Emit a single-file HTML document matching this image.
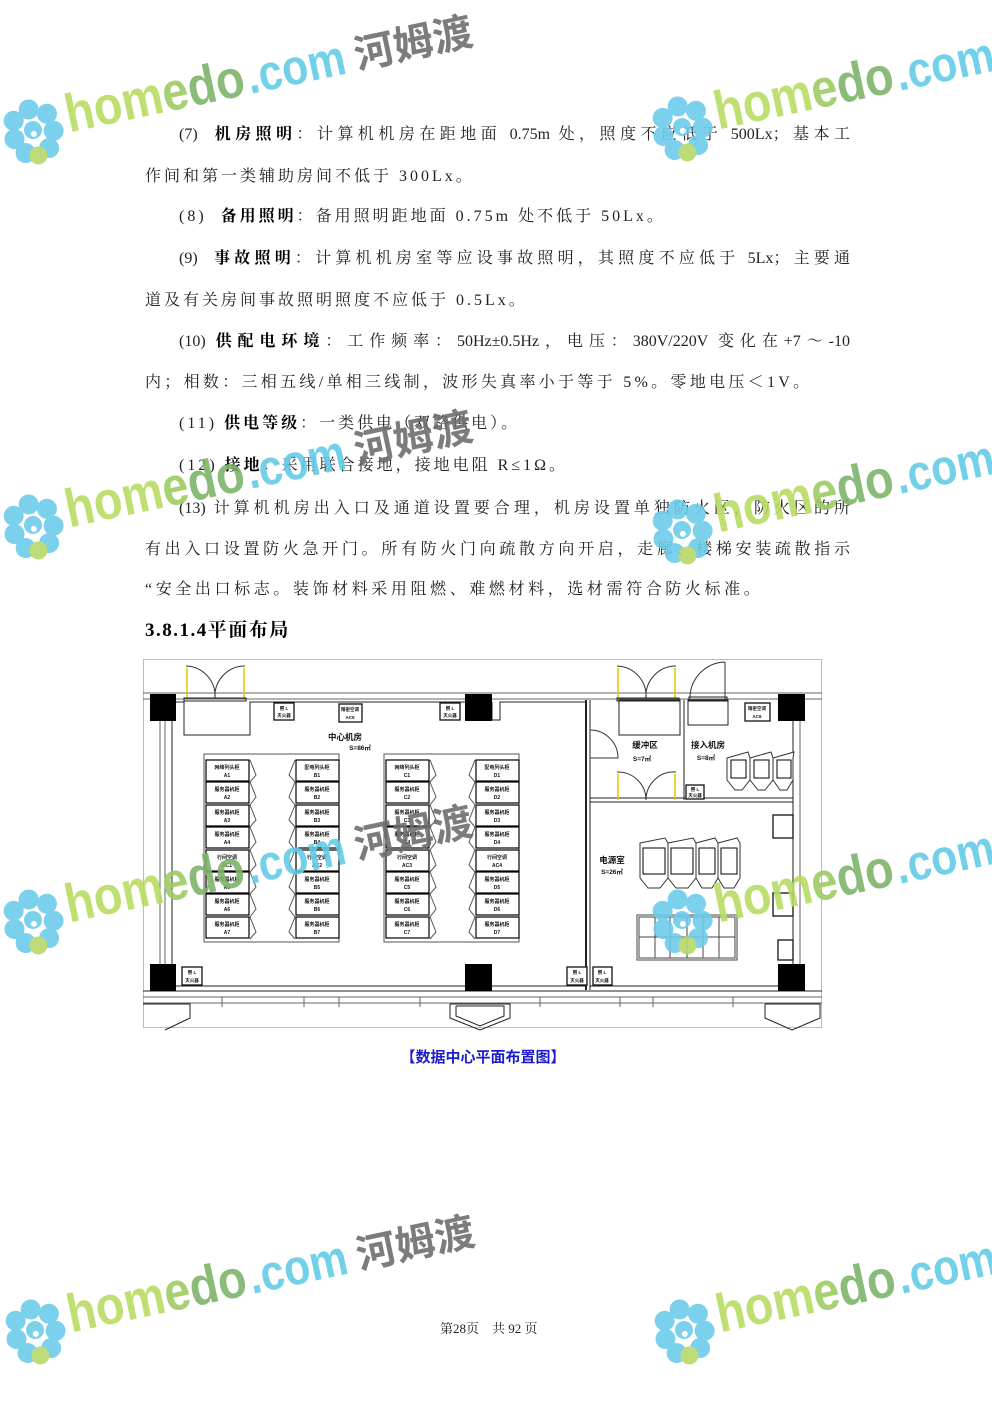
<!DOCTYPE html>
<html><head><meta charset="utf-8">
<style>
html,body{margin:0;padding:0;background:#fff}
body{width:992px;height:1403px;position:relative;overflow:hidden;font-family:"Liberation Serif","Noto Serif CJK SC",serif;color:#222}
.l{position:absolute;left:145px;height:22px;line-height:22px;font-size:16px;letter-spacing:2.4px;white-space:nowrap}
.j{width:705px;text-align:justify;text-align-last:justify;letter-spacing:0;white-space:normal}
.i{left:179px}
.i.j{width:671px}
b{font-weight:bold;color:#000}
svg{position:absolute;left:0;top:0}
.t{font-family:"Liberation Sans","Noto Sans CJK SC",sans-serif;font-weight:bold;fill:#111}
</style></head><body>
<div class="l i j" style="top:124px">(7)&nbsp; <b>机房照明</b>：计算机机房在距地面 0.75m 处，照度不应低于 500Lx；基本工</div>
<div class="l" style="top:166px;letter-spacing:3px">作间和第一类辅助房间不低于 300Lx。</div>
<div class="l i" style="top:206px;letter-spacing:3px">(8)&nbsp; <b>备用照明</b>：备用照明距地面 0.75m 处不低于 50Lx。</div>
<div class="l i j" style="top:248px">(9)&nbsp; <b>事故照明</b>：计算机机房室等应设事故照明，其照度不应低于 5Lx；主要通</div>
<div class="l" style="top:290px;letter-spacing:3px">道及有关房间事故照明照度不应低于 0.5Lx。</div>
<div class="l i j" style="top:331px">(10) <b>供配电环境</b>：工作频率：50Hz±0.5Hz，电压：380V/220V 变化在+7～-10</div>
<div class="l" style="top:372px;letter-spacing:3.3px">内；相数：三相五线/单相三线制，波形失真率小于等于 5%。零地电压＜1V。</div>
<div class="l i" style="top:413px;letter-spacing:3px">(11) <b>供电等级</b>：一类供电（双路供电）。</div>
<div class="l i" style="top:455px;letter-spacing:3px">(12) <b>接地</b>：采用联合接地，接地电阻 R≤1Ω。</div>
<div class="l i j" style="top:498px">(13) 计算机机房出入口及通道设置要合理，机房设置单独防火区，防火区的所</div>
<div class="l j" style="top:539px">有出入口设置防火急开门。所有防火门向疏散方向开启，走廊、楼梯安装疏散指示</div>
<div class="l" style="top:579px;letter-spacing:3.6px">“安全出口标志。装饰材料采用阻燃、难燃材料，选材需符合防火标准。</div>
<div class="l" style="top:620px;font-size:19px;font-weight:bold;letter-spacing:1.5px;color:#000">3.8.1.4平面布局</div>
<div style="position:absolute;left:380px;width:206px;top:1046px;text-align:center;font-size:15px;font-weight:bold;color:#1c1ccc;font-family:'Liberation Sans','Noto Sans CJK SC',sans-serif">【数据中心平面布置图】</div>
<div style="position:absolute;left:440px;top:1318px;font-size:13px;color:#222">第28页&nbsp;&nbsp;&nbsp; 共 92 页</div>

<svg width="992" height="1403" viewBox="0 0 992 1403">
<defs>
<g id="logo"><g fill="#6ccbea"><circle cx="0" cy="-21" r="10"/><circle cx="17" cy="-13" r="10"/><circle cx="20" cy="5" r="10"/><circle cx="-17" cy="-13" r="10"/><circle cx="-20" cy="5" r="10"/><circle cx="-12" cy="21" r="10"/><circle cx="12" cy="21" r="10"/><circle cx="0" cy="0" r="9"/></g><circle cx="0" cy="26" r="9" fill="#b6d868"/><circle cx="0" cy="4" r="3" fill="#fff"/></g>
</defs>
<g fill="none" stroke="#222" stroke-width="1">
<rect x="143.5" y="659.5" width="678" height="368" stroke="#bbb"/>
<line x1="143" y1="693" x2="822" y2="693" stroke="#666"/><line x1="143" y1="699" x2="822" y2="699" stroke="#666"/>
<line x1="143" y1="991" x2="822" y2="991"/><line x1="143" y1="997" x2="822" y2="997" stroke="#666"/><line x1="143" y1="1003" x2="822" y2="1003" stroke="#666"/>
<line x1="160" y1="721" x2="160" y2="964" stroke="#666"/><line x1="165" y1="721" x2="165" y2="964" stroke="#666"/><line x1="172" y1="721" x2="172" y2="964"/>
<polyline points="176,702 184,702 184,735 250,735 250,702 465,702"/>
<polyline points="492,702 492,720 500,720 500,702 586,702"/>
<line x1="586" y1="700" x2="586" y2="990" stroke-width="2"/><line x1="590" y1="700" x2="590" y2="990"/>
<polyline points="176,986 465,986"/><polyline points="492,986 586,986"/>
<rect x="619" y="700" width="61" height="35"/>
<line x1="684" y1="700" x2="684" y2="800"/>
<rect x="688" y="700" width="40" height="25"/>
<line x1="590" y1="798" x2="793" y2="798"/><line x1="590" y1="802" x2="793" y2="802"/>
<line x1="793" y1="721" x2="793" y2="964"/><line x1="800" y1="721" x2="800" y2="964" stroke="#666"/>
<line x1="590" y1="986" x2="778" y2="986"/>
<g stroke="#333">
<path d="M186,666 A30,30 0 0 1 215,698 M245,666 A30,30 0 0 0 215,698"/>
<path d="M617,666 A30,30 0 0 1 646,698 M676,666 A30,30 0 0 0 646,698"/>
<path d="M725,662 A36,36 0 0 0 690,698"/><line x1="725" y1="662" x2="725" y2="700"/>
<path d="M617,772 A28,28 0 0 1 646,800 M676,772 A28,28 0 0 0 646,800"/>
<path d="M590,730 A28,28 0 0 1 618,758"/><line x1="590" y1="758" x2="618" y2="758"/>
</g>
<g stroke="#e2c400" stroke-width="1.5"><line x1="187" y1="668" x2="187" y2="698"/><line x1="244" y1="668" x2="244" y2="698"/><line x1="618" y1="668" x2="618" y2="698"/><line x1="675" y1="668" x2="675" y2="698"/><line x1="618" y1="774" x2="618" y2="800"/><line x1="675" y1="774" x2="675" y2="800"/></g>
<rect x="184" y="698" width="62" height="3"/><rect x="617" y="698" width="62" height="3"/><rect x="689" y="697" width="38" height="4"/>
<polyline points="143,1004 190,1004 190,1018 165,1030"/>
<polyline points="450,1004 510,1004 510,1018 480,1030 450,1018 450,1004"/>
<polyline points="456,1006 504,1006 504,1016 480,1026 456,1016 456,1006"/>
<polyline points="765,1004 820,1004 820,1018 792,1030 765,1018 765,1004"/>
<g stroke="#666"><line x1="222" y1="997" x2="222" y2="1007"/><line x1="304" y1="997" x2="304" y2="1007"/><line x1="339" y1="997" x2="339" y2="1007"/><line x1="420" y1="997" x2="420" y2="1007"/><line x1="540" y1="997" x2="540" y2="1007"/><line x1="620" y1="997" x2="620" y2="1007"/><line x1="653" y1="997" x2="653" y2="1007"/><line x1="733" y1="997" x2="733" y2="1007"/></g>
<rect x="204" y="754" width="135" height="188" stroke="#555"/>
<rect x="384" y="754" width="135" height="188" stroke="#555"/>
</g>
<g fill="#000"><rect x="150" y="694" width="26" height="27"/><rect x="465" y="694" width="27" height="27"/><rect x="778" y="694" width="27" height="27"/><rect x="150" y="964" width="26" height="27"/><rect x="465" y="964" width="27" height="27"/><rect x="778" y="964" width="27" height="27"/></g>
<g fill="#fff" stroke="#111" stroke-width="1.3">
<rect x="274" y="703" width="20" height="17"/><rect x="440" y="703" width="20" height="17"/><rect x="339" y="704" width="23" height="18"/>
<rect x="182" y="967" width="20" height="18"/><rect x="567" y="967" width="20" height="18"/><rect x="593" y="967" width="19" height="18"/>
<rect x="745" y="703" width="25" height="18"/><rect x="686" y="785" width="18" height="14"/>
<rect x="773" y="815" width="20" height="23"/><rect x="773" y="893" width="20" height="23"/><rect x="778" y="940" width="15" height="20"/>
</g>
<g class="t" font-size="4.5" text-anchor="middle">
<text x="284" y="710">照 L</text><text x="284" y="717">灭火器</text>
<text x="450" y="710">照 L</text><text x="450" y="717">灭火器</text>
<text x="350" y="711">精密空调</text><text x="350" y="719">AC5</text>
<text x="192" y="974">照 L</text><text x="192" y="982">灭火器</text>
<text x="577" y="974">照 L</text><text x="577" y="982">灭火器</text>
<text x="602" y="974">照 L</text><text x="602" y="982">灭火器</text>
<text x="757" y="710">精密空调</text><text x="757" y="718">AC6</text>
<text x="695" y="791">照 L</text><text x="695" y="797">灭火器</text>
</g>
<g class="t" text-anchor="middle">
<text x="345" y="740" font-size="8.5">中心机房</text><text x="360" y="750" font-size="6.5">S=86㎡</text>
<text x="645" y="748" font-size="8.5">缓冲区</text><text x="642" y="761" font-size="6.5">S=7㎡</text>
<text x="708" y="748" font-size="8.5">接入机房</text><text x="706" y="760" font-size="6.5">S=8㎡</text>
<text x="612" y="863" font-size="8.5">电源室</text><text x="612" y="874" font-size="6.5">S=26㎡</text>
</g>
<g fill="#fff" stroke="#333"><path d="M727,758 L748,752 L750,758 L750,780 L742,790 L735,790 L727,780 Z"/><path d="M750,758 L771,752 L773,758 L773,780 L765,790 L758,790 L750,780 Z"/><path d="M773,758 L794,752 L793,758 L793,780 L787,790 L780,790 L773,780 Z"/>
<rect x="731" y="760" width="15" height="18" stroke="#000"/><rect x="754" y="760" width="15" height="18" stroke="#000"/><rect x="777" y="760" width="14" height="18" stroke="#000"/></g>
<g fill="#fff" stroke="#333"><path d="M640,843 L665,838 L668,843 L668,878 L660,888 L648,888 L640,878 Z"/><path d="M668,843 L693,838 L696,843 L696,878 L688,888 L676,888 L668,878 Z"/><path d="M696,843 L715,838 L718,843 L718,878 L712,888 L702,888 L696,878 Z"/><path d="M718,843 L737,838 L740,843 L740,878 L734,888 L724,888 L718,878 Z"/>
<rect x="643" y="848" width="22" height="26" stroke="#000"/><rect x="671" y="848" width="22" height="26" stroke="#000"/><rect x="699" y="848" width="16" height="26" stroke="#000"/><rect x="721" y="848" width="16" height="26" stroke="#000"/></g>
<g fill="none" stroke="#444"><rect x="637" y="915" width="100" height="45"/><rect x="639" y="917" width="96" height="41"/><line x1="639" y1="937" x2="735" y2="937"/>
<line x1="655" y1="917" x2="655" y2="958"/><line x1="670" y1="917" x2="670" y2="958"/><line x1="687" y1="917" x2="687" y2="958"/><line x1="703" y1="917" x2="703" y2="958"/><line x1="719" y1="917" x2="719" y2="958"/></g>
<g fill="#fff" stroke="#000" stroke-width="1">
<g stroke="#555" fill="none">
<path d="M250,760 L256,775 L250,782 M250,782 L256,797 L250,805 M250,805 L256,820 L250,827 M250,827 L256,842 L250,850 M250,850 L256,865 L250,872 M250,872 L256,887 L250,894 M250,894 L256,909 L250,917 M250,917 L256,932 L250,939"/>
<path d="M295,760 L289,775 L295,782 M295,782 L289,797 L295,805 M295,805 L289,820 L295,827 M295,827 L289,842 L295,850 M295,850 L289,865 L295,872 M295,872 L289,887 L295,894 M295,894 L289,909 L295,917 M295,917 L289,932 L295,939"/>
<path d="M430,760 L436,775 L430,782 M430,782 L436,797 L430,805 M430,805 L436,820 L430,827 M430,827 L436,842 L430,850 M430,850 L436,865 L430,872 M430,872 L436,887 L430,894 M430,894 L436,909 L430,917 M430,917 L436,932 L430,939"/>
<path d="M475,760 L469,775 L475,782 M475,782 L469,797 L475,805 M475,805 L469,820 L475,827 M475,827 L469,842 L475,850 M475,850 L469,865 L475,872 M475,872 L469,887 L475,894 M475,894 L469,909 L475,917 M475,917 L469,932 L475,939"/>
</g>
<g stroke-width="1.2">
<rect x="206" y="760" width="43" height="21"/><rect x="206" y="782" width="43" height="21"/><rect x="206" y="805" width="43" height="21"/><rect x="206" y="827" width="43" height="21"/><rect x="206" y="850" width="43" height="21"/><rect x="206" y="872" width="43" height="21"/><rect x="206" y="894" width="43" height="21"/><rect x="206" y="917" width="43" height="21"/>
<rect x="296" y="760" width="43" height="21"/><rect x="296" y="782" width="43" height="21"/><rect x="296" y="805" width="43" height="21"/><rect x="296" y="827" width="43" height="21"/><rect x="296" y="850" width="43" height="21"/><rect x="296" y="872" width="43" height="21"/><rect x="296" y="894" width="43" height="21"/><rect x="296" y="917" width="43" height="21"/>
<rect x="386" y="760" width="43" height="21"/><rect x="386" y="782" width="43" height="21"/><rect x="386" y="805" width="43" height="21"/><rect x="386" y="827" width="43" height="21"/><rect x="386" y="850" width="43" height="21"/><rect x="386" y="872" width="43" height="21"/><rect x="386" y="894" width="43" height="21"/><rect x="386" y="917" width="43" height="21"/>
<rect x="476" y="760" width="43" height="21"/><rect x="476" y="782" width="43" height="21"/><rect x="476" y="805" width="43" height="21"/><rect x="476" y="827" width="43" height="21"/><rect x="476" y="850" width="43" height="21"/><rect x="476" y="872" width="43" height="21"/><rect x="476" y="894" width="43" height="21"/><rect x="476" y="917" width="43" height="21"/>
</g></g>
<g class="t" font-size="5" text-anchor="middle">
<text x="227" y="769">网络列头柜</text><text x="227" y="777">A1</text><text x="227" y="791">服务器机柜</text><text x="227" y="799">A2</text><text x="227" y="814">服务器机柜</text><text x="227" y="822">A3</text><text x="227" y="836">服务器机柜</text><text x="227" y="844">A4</text><text x="227" y="859">行间空调</text><text x="227" y="867">AC1</text><text x="227" y="881">服务器机柜</text><text x="227" y="889">A5</text><text x="227" y="903">服务器机柜</text><text x="227" y="911">A6</text><text x="227" y="926">服务器机柜</text><text x="227" y="934">A7</text>
<text x="317" y="769">配电列头柜</text><text x="317" y="777">B1</text><text x="317" y="791">服务器机柜</text><text x="317" y="799">B2</text><text x="317" y="814">服务器机柜</text><text x="317" y="822">B3</text><text x="317" y="836">服务器机柜</text><text x="317" y="844">B4</text><text x="317" y="859">行间空调</text><text x="317" y="867">AC2</text><text x="317" y="881">服务器机柜</text><text x="317" y="889">B5</text><text x="317" y="903">服务器机柜</text><text x="317" y="911">B6</text><text x="317" y="926">服务器机柜</text><text x="317" y="934">B7</text>
<text x="407" y="769">网络列头柜</text><text x="407" y="777">C1</text><text x="407" y="791">服务器机柜</text><text x="407" y="799">C2</text><text x="407" y="814">服务器机柜</text><text x="407" y="822">C3</text><text x="407" y="836">服务器机柜</text><text x="407" y="844">C4</text><text x="407" y="859">行间空调</text><text x="407" y="867">AC3</text><text x="407" y="881">服务器机柜</text><text x="407" y="889">C5</text><text x="407" y="903">服务器机柜</text><text x="407" y="911">C6</text><text x="407" y="926">服务器机柜</text><text x="407" y="934">C7</text>
<text x="497" y="769">配电列头柜</text><text x="497" y="777">D1</text><text x="497" y="791">服务器机柜</text><text x="497" y="799">D2</text><text x="497" y="814">服务器机柜</text><text x="497" y="822">D3</text><text x="497" y="836">服务器机柜</text><text x="497" y="844">D4</text><text x="497" y="859">行间空调</text><text x="497" y="867">AC4</text><text x="497" y="881">服务器机柜</text><text x="497" y="889">D5</text><text x="497" y="903">服务器机柜</text><text x="497" y="911">D6</text><text x="497" y="926">服务器机柜</text><text x="497" y="934">D7</text>
</g>

<g opacity="0.9" font-family="'Liberation Sans','Noto Sans CJK SC',sans-serif" font-weight="bold">
<g transform="translate(33,130) rotate(-12)"><use href="#logo"/>
<text x="35" y="10" font-size="54" textLength="182" lengthAdjust="spacingAndGlyphs" fill="#b8dc62">hom<tspan fill="#9ccb62">e</tspan><tspan fill="#7db46a">do</tspan></text>
<text x="220" y="10" font-size="50" textLength="100" lengthAdjust="spacingAndGlyphs" fill="#62cbe6">.com</text>
<text x="330" y="8" font-size="40" textLength="120" fill="#6e6e6e">河姆渡</text></g>
<g transform="translate(682,127) rotate(-12)"><use href="#logo"/>
<text x="35" y="10" font-size="54" textLength="182" lengthAdjust="spacingAndGlyphs" fill="#b8dc62">hom<tspan fill="#9ccb62">e</tspan><tspan fill="#7db46a">do</tspan></text>
<text x="220" y="10" font-size="50" textLength="100" lengthAdjust="spacingAndGlyphs" fill="#62cbe6">.com</text>
<text x="330" y="8" font-size="40" textLength="120" fill="#6e6e6e">河姆渡</text></g>
<g transform="translate(33,525) rotate(-12)"><use href="#logo"/>
<text x="35" y="10" font-size="54" textLength="182" lengthAdjust="spacingAndGlyphs" fill="#b8dc62">hom<tspan fill="#9ccb62">e</tspan><tspan fill="#7db46a">do</tspan></text>
<text x="220" y="10" font-size="50" textLength="100" lengthAdjust="spacingAndGlyphs" fill="#62cbe6">.com</text>
<text x="330" y="8" font-size="40" textLength="120" fill="#6e6e6e">河姆渡</text></g>
<g transform="translate(682,530) rotate(-12)"><use href="#logo"/>
<text x="35" y="10" font-size="54" textLength="182" lengthAdjust="spacingAndGlyphs" fill="#b8dc62">hom<tspan fill="#9ccb62">e</tspan><tspan fill="#7db46a">do</tspan></text>
<text x="220" y="10" font-size="50" textLength="100" lengthAdjust="spacingAndGlyphs" fill="#62cbe6">.com</text>
<text x="330" y="8" font-size="40" textLength="120" fill="#6e6e6e">河姆渡</text></g>
<g transform="translate(33,920) rotate(-12)"><use href="#logo"/>
<text x="35" y="10" font-size="54" textLength="182" lengthAdjust="spacingAndGlyphs" fill="#b8dc62">hom<tspan fill="#9ccb62">e</tspan><tspan fill="#7db46a">do</tspan></text>
<text x="220" y="10" font-size="50" textLength="100" lengthAdjust="spacingAndGlyphs" fill="#62cbe6">.com</text>
<text x="330" y="8" font-size="40" textLength="120" fill="#6e6e6e">河姆渡</text></g>
<g transform="translate(682,920) rotate(-12)"><use href="#logo"/>
<text x="35" y="10" font-size="54" textLength="182" lengthAdjust="spacingAndGlyphs" fill="#b8dc62">hom<tspan fill="#9ccb62">e</tspan><tspan fill="#7db46a">do</tspan></text>
<text x="220" y="10" font-size="50" textLength="100" lengthAdjust="spacingAndGlyphs" fill="#62cbe6">.com</text>
<text x="330" y="8" font-size="40" textLength="120" fill="#6e6e6e">河姆渡</text></g>
<g transform="translate(35,1330) rotate(-12)"><use href="#logo"/>
<text x="35" y="10" font-size="54" textLength="182" lengthAdjust="spacingAndGlyphs" fill="#b8dc62">hom<tspan fill="#9ccb62">e</tspan><tspan fill="#7db46a">do</tspan></text>
<text x="220" y="10" font-size="50" textLength="100" lengthAdjust="spacingAndGlyphs" fill="#62cbe6">.com</text>
<text x="330" y="8" font-size="40" textLength="120" fill="#6e6e6e">河姆渡</text></g>
<g transform="translate(684,1330) rotate(-12)"><use href="#logo"/>
<text x="35" y="10" font-size="54" textLength="182" lengthAdjust="spacingAndGlyphs" fill="#b8dc62">hom<tspan fill="#9ccb62">e</tspan><tspan fill="#7db46a">do</tspan></text>
<text x="220" y="10" font-size="50" textLength="100" lengthAdjust="spacingAndGlyphs" fill="#62cbe6">.com</text>
<text x="330" y="8" font-size="40" textLength="120" fill="#6e6e6e">河姆渡</text></g>
</g>
</svg>
</body></html>
